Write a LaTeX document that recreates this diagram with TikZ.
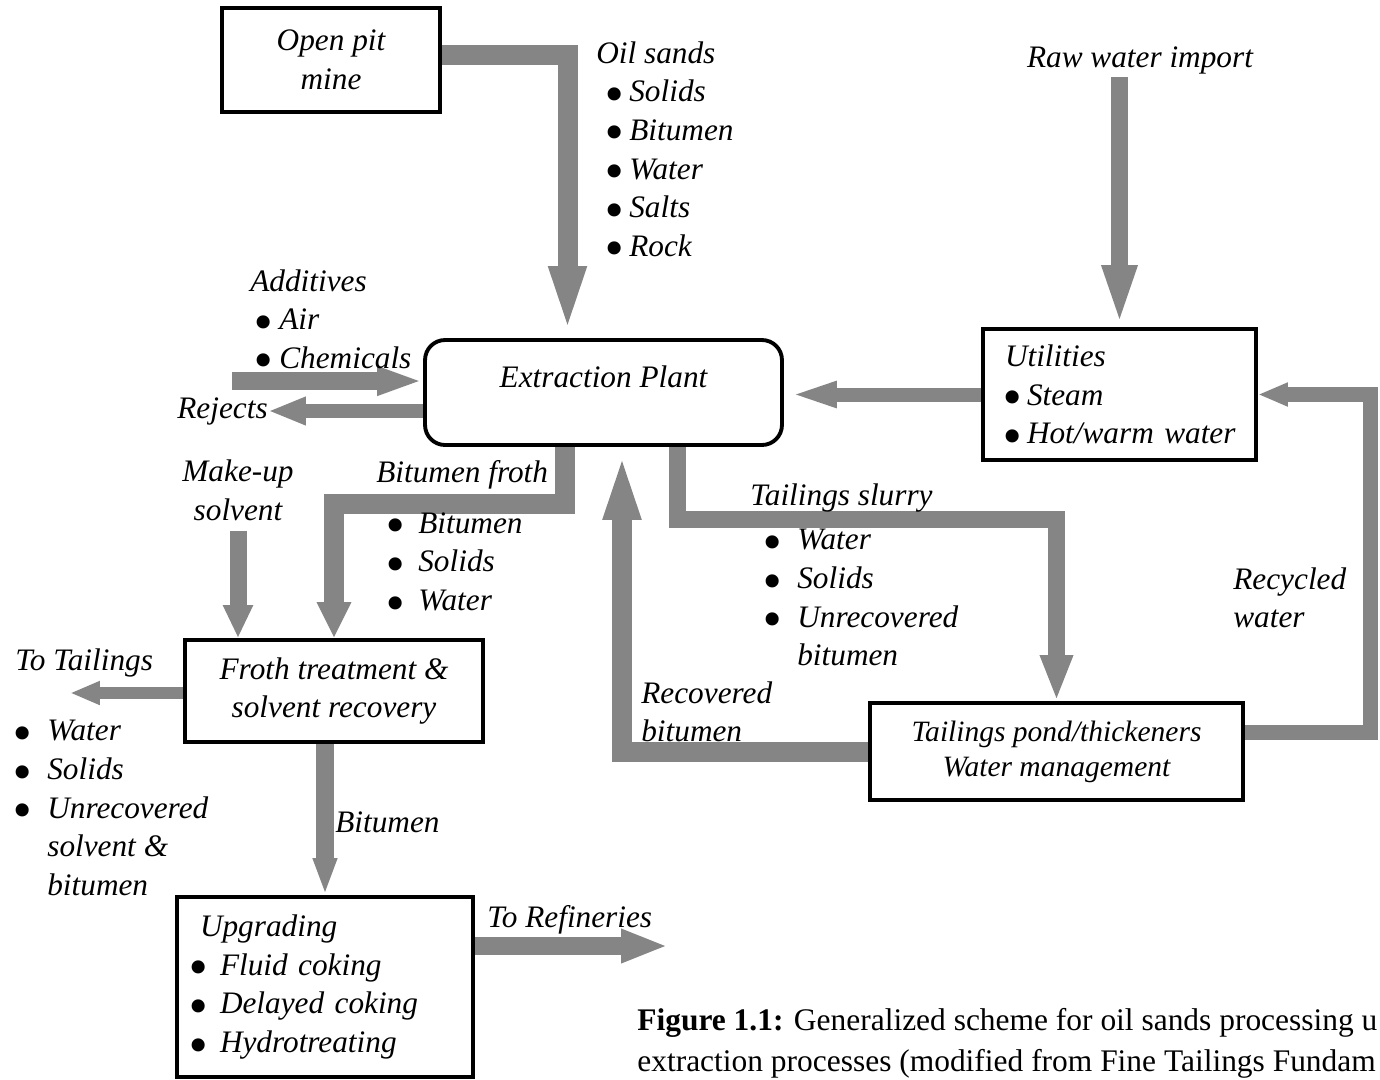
\documentclass[tikz,border=0pt]{standalone}
\usepackage{fontspec}
\setmainfont{Liberation Serif}
\usepackage{graphicx}
\usepackage{tikz}
\usetikzlibrary{arrows.meta, calc, backgrounds}

\newcommand{\bl}[1]{\makebox[#1][l]{\raisebox{-0.34em}[0pt][0pt]{\scalebox{1.75}{\textbullet}}}}

\begin{document}
\begin{tikzpicture}[
    x=0.02cm, y=-0.02cm,
    font=\fontsize{17.8}{22}\selectfont\itshape,
    unitbox/.style={draw, line width=2.2pt, align=center, inner sep=0pt},
    lbl/.style={align=left, inner sep=0pt},
    pipe/.style={draw=black!48, line width=#1, line join=miter},
    pipe/.default=0.36cm,
    flowhead/.style 2 args={-{Triangle[length=#1, width=#2]}}
]
\useasboundingbox (0,0) rectangle (1380,1079);
\clip (0,0) rectangle (1380,1079);
% Process units
\node[unitbox, minimum width=4.36cm, minimum height=2.08cm] (mine) at (331,60) {Open pit\\mine};
\node[unitbox, rounded corners=0.4cm, minimum width=7.14cm, minimum height=2.1cm] (ext) at (603.5,392.5) {};
\node (extlbl) at ([yshift=0.31cm]ext.center) {Extraction Plant};
\node[unitbox, align=left, text width=4.7cm, inner xsep=0.38cm, minimum height=2.62cm] (util) at (1119.5,394.5)
    {\hspace{0.06cm}Utilities\\\bl{0.5cm}Steam\\\bl{0.5cm}Hot/warm water};
\node[unitbox, minimum width=5.96cm, minimum height=2.04cm] (froth) at (334,691) {Froth treatment \&\\solvent recovery};
\node[unitbox, align=left, text width=5.48cm, inner xsep=0.22cm, minimum height=3.6cm] (upg) at (325,987)
    {\hspace{0.24cm}Upgrading\\\bl{0.64cm}Fluid coking\\\bl{0.64cm}Delayed coking\\\bl{0.64cm}Hydrotreating};
\node[unitbox, minimum width=7.46cm, minimum height=1.94cm, font=\fontsize{16.8}{20}\selectfont\itshape] (pond) at (1056.5,751.5)
    {Tailings pond/thickeners\\Water management};
% Stream labels
\node[lbl, anchor=north west] (oilsands) at (596,41) {Oil sands\\\hspace{0.16cm}\bl{0.5cm}Solids\\\hspace{0.16cm}\bl{0.5cm}Bitumen\\\hspace{0.16cm}\bl{0.5cm}Water\\\hspace{0.16cm}\bl{0.5cm}Salts\\\hspace{0.16cm}\bl{0.5cm}Rock};
\node[lbl, anchor=north west] (additives) at (250,269) {Additives\\\hspace{0.06cm}\bl{0.52cm}Air\\\hspace{0.06cm}\bl{0.52cm}Chemicals};
\node[lbl, anchor=east] (rejects) at (268,411) {Rejects};
\node[lbl, align=center] (makeup) at (238,490) {Make-up\\solvent};
\node[lbl, anchor=west] (frothlbl) at (376,475) {Bitumen froth};
\node[lbl, anchor=north west] (frothlist) at (385,512) {\bl{0.66cm}Bitumen\\\bl{0.66cm}Solids\\\bl{0.66cm}Water};
\node[lbl, anchor=west] (tailslbl) at (15,663) {To Tailings};
\node[lbl, anchor=north west] (tailslist) at (12,720) {\bl{0.7cm}Water\\\bl{0.7cm}Solids\\\bl{0.7cm}Unrecovered\\\hspace{0.7cm}solvent \&\\\hspace{0.7cm}bitumen};
\node[lbl, anchor=west] (bitlbl) at (335,822) {Bitumen};
\node[lbl, anchor=west] (reflbl) at (487,920) {To Refineries};
\node[lbl] (rawlbl) at (1140,60) {Raw water import};
\node[lbl, anchor=north west] (recyclbl) at (1233,567) {Recycled\\water};
\node[lbl, anchor=west] (slurrylbl) at (750,498) {Tailings slurry};
\node[lbl, anchor=north west] (slurrylist) at (762,529) {\bl{0.7cm}Water\\\bl{0.7cm}Solids\\\bl{0.7cm}Unrecovered\\\hspace{0.7cm}bitumen};
\node[lbl, anchor=north west] (recovlbl) at (641,681) {Recovered\\bitumen};
\node[lbl, anchor=north west, font=\fontsize{17.9}{23.3}\selectfont\upshape] (caption) at (637,1008)
    {\textbf{Figure 1.1:} Generalized scheme for oil sands processing u\\extraction processes (modified from Fine Tailings Fundam};
% Free ends
\coordinate (addin) at (232,381);
\coordinate (tailout) at (70,693);
\coordinate (refout) at (668,946);
% Streams
\begin{scope}[on background layer]
\draw[pipe=0.4cm, flowhead={1.44cm}{0.64cm}] ([yshift=0.1cm]mine.east) -| ([xshift=-0.72cm]ext.north);
\draw[pipe, flowhead={0.92cm}{0.52cm}] (addin) -- (addin -| ext.west);
\draw[pipe=0.28cm, flowhead={0.76cm}{0.52cm}] (ext.west |- rejects.east) -- (rejects.east);
\draw[pipe=0.34cm, flowhead={0.66cm}{0.56cm}] ([yshift=-0.2cm]makeup.south) -- (makeup.south |- froth.north);
\draw[pipe=0.4cm, flowhead={0.72cm}{0.64cm}] ([xshift=-0.77cm]ext.south) -- ++(0,57) -| (froth.north);
\draw[pipe=0.24cm, flowhead={0.6cm}{0.44cm}] (froth.west |- tailout) -- (tailout);
\draw[pipe, flowhead={0.74cm}{0.44cm}] (froth.south -| upg.north) -- (upg.north);
\draw[pipe, flowhead={0.94cm}{0.62cm}] (upg.east |- refout) -- (refout);
\draw[pipe=0.34cm, flowhead={1.24cm}{0.62cm}] ([yshift=-0.06cm]rawlbl.south -| util.north) -- (util.north);
\draw[pipe=0.28cm, flowhead={1.06cm}{0.44cm}] (util.west) -- (util.west -| ext.east);
\draw[pipe=0.3cm, flowhead={0.6cm}{0.44cm}] ([yshift=0.39cm]pond.east) -- ++(126,0) |- (util.east);
\draw[pipe=0.34cm, flowhead={0.92cm}{0.6cm}] ([xshift=1.49cm]ext.south) -- ++(0,73) -| (pond.north);
\draw[pipe=0.4cm, flowhead={1.46cm}{0.64cm}] (pond.west) -| ([xshift=0.37cm]ext.south);
\end{scope}
\end{tikzpicture}
\end{document}
